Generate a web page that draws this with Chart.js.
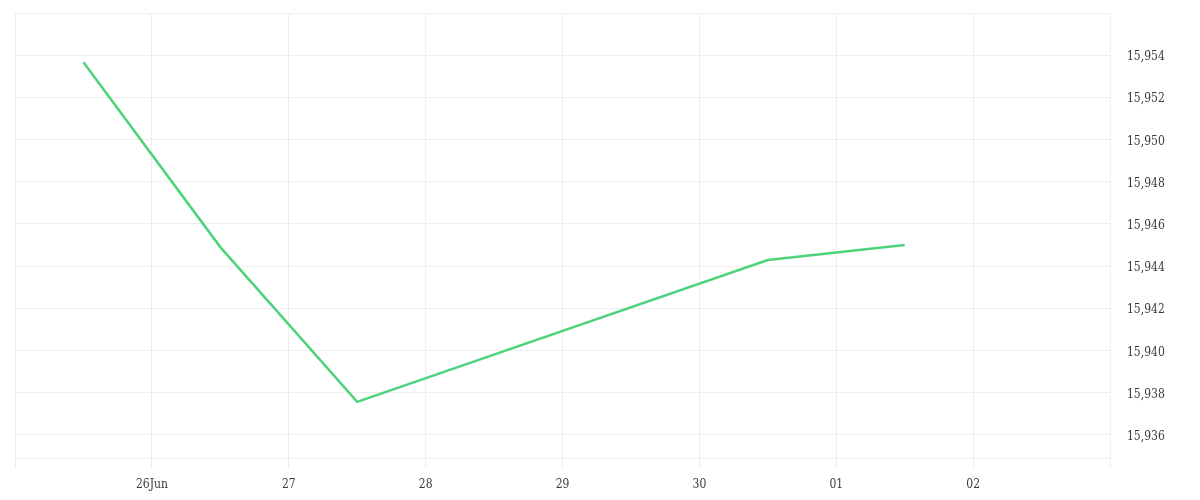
<!DOCTYPE html>
<html><head><meta charset="utf-8">
<script src="https://cdn.jsdelivr.net/npm/chart.js@4/dist/chart.umd.min.js"></script>
<style>html,body{margin:0;padding:0;background:#fff}#wrap{width:1200px;height:500px}</style>
</head><body><div id="wrap"><canvas id="c" width="1200" height="500"></canvas></div>
<script>
// ---- data ----
const dates = ['2025-06-25T12:00Z','2025-06-26T12:00Z','2025-06-27T12:00Z','2025-06-30T12:00Z','2025-07-01T12:00Z'];
const values = [15953.67, 15944.90, 15937.56, 15944.29, 15945.00];
const xTickDates = ['2025-06-25','2025-06-26','2025-06-27','2025-06-28','2025-06-29','2025-06-30','2025-07-01','2025-07-02','2025-07-03'];
const xTickLabels = ['', '26Jun', '27', '28', '29', '30', '01', '02', ''];
const yTickValues = [15936, 15938, 15940, 15942, 15944, 15946, 15948, 15950, 15952, 15954, 15956];
const yTickLabels = ['15,936','15,938','15,940','15,942','15,944','15,946','15,948','15,950','15,952','15,954',''];
const yMin = 15934.9, yMax = 15956;

const DAY = 86400000;
const toDay = s => Date.parse(s.length <= 10 ? s + 'T00:00Z' : s) / DAY;
const xTicksNum = xTickDates.map(toDay);
const points = dates.map((d, i) => ({ x: toDay(d), y: values[i] }));

const font = { family: '"DejaVu Serif Condensed", "DejaVu Serif", serif', size: 12 };
const gridColor = '#eeeeee';

new Chart(document.getElementById('c'), {
  type: 'line',
  data: { datasets: [{ data: points, borderColor: '#4dd37b', borderWidth: 2.5, pointRadius: 0, tension: 0, fill: false }] },
  options: {
    responsive: false, animation: false,
    layout: { padding: { left: 15, top: 13, right: 0, bottom: 0 } },
    plugins: { legend: { display: false }, tooltip: { enabled: false } },
    scales: {
      x: {
        type: 'linear',
        min: xTicksNum[0], max: xTicksNum[xTicksNum.length - 1],
        afterBuildTicks: s => { s.ticks = xTicksNum.map(v => ({ value: v })); },
        afterFit: s => { s.height = 42; },
        grid: { color: gridColor, tickLength: 10, drawTicks: true },
        border: { color: gridColor },
        ticks: {
          font, color: '#3a3a3a', padding: 10, maxRotation: 0, autoSkip: false,
          callback: (v, i) => xTickLabels[xTicksNum.indexOf(v)] ?? ''
        }
      },
      y: {
        position: 'right',
        min: yMin, max: yMax,
        afterBuildTicks: s => { s.ticks = yTickValues.map(v => ({ value: v })); },
        afterFit: s => { s.width = 90; },
        grid: { color: gridColor, drawTicks: true, tickLength: 17, tickColor: 'rgba(0,0,0,0)' },
        border: { color: gridColor },
        ticks: {
          font, color: '#3a3a3a', padding: 0, labelOffset: 2,
          callback: v => yTickLabels[yTickValues.indexOf(v)] ?? ''
        }
      }
    }
  }
});
</script></body></html>
